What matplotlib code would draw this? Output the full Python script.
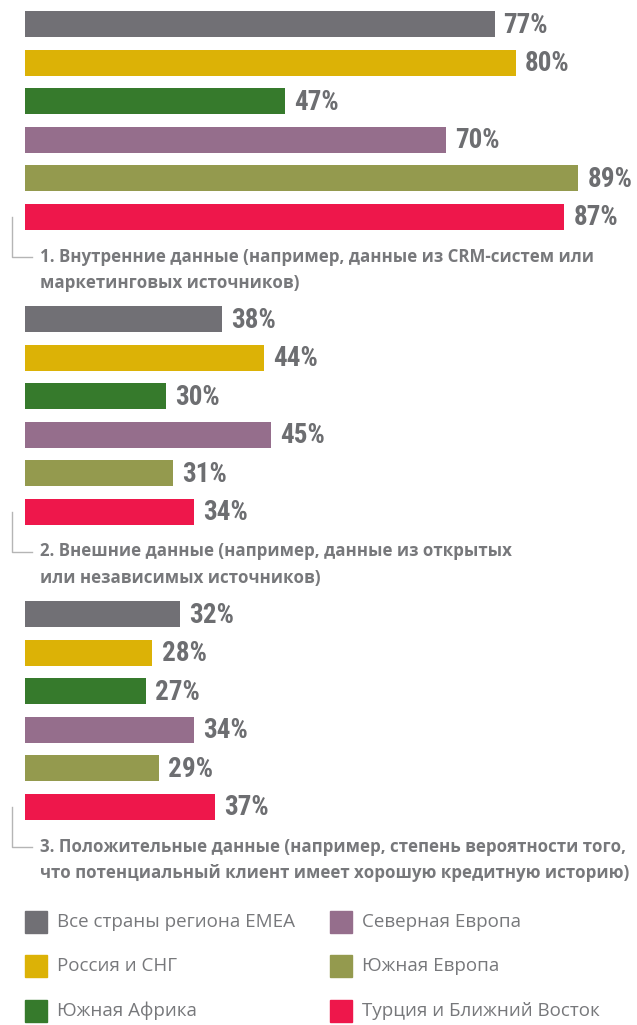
import matplotlib.pyplot as plt
from matplotlib import font_manager
from matplotlib.patches import Rectangle
from matplotlib.lines import Line2D

regions = ["Все страны региона EMEA", "Россия и СНГ", "Южная Африка",
           "Северная Европа", "Южная Европа", "Турция и Ближний Восток"]
colors = ["#717075", "#dcb206", "#367a2c", "#956e8c", "#949a4e", "#ee174b"]

group_titles = [
    ["1. Внутренние данные (например, данные из CRM-систем или",
     "маркетинговых источников)"],
    ["2. Внешние данные (например, данные из открытых",
     "или независимых источников)"],
    ["3. Положительные данные (например, степень вероятности того,",
     "что потенциальный клиент имеет хорошую кредитную историю)"],
]
internal = [77, 80, 47, 70, 89, 87]
external = [38, 44, 30, 45, 31, 34]
positive = [32, 28, 27, 34, 29, 37]
groups = [internal, external, positive]

# pick a narrow bold face for the percentages if one is around
installed = {f.name for f in font_manager.fontManager.ttflist}
num_font = "Roboto"
for name in ["Roboto Condensed", "Liberation Sans Narrow", "Open Sans Condensed",
             "DejaVu Sans Condensed"]:
    if name in installed:
        num_font = name
        break

W, H = 637, 1025
fig = plt.figure(figsize=(W / 100, H / 100), dpi=100)
ax = fig.add_axes([25 / W, 0, (W - 25) / W, 1])
ax.set_xlim(9.74, 97.4)
ax.set_ylim(H, 0)
ax.axis("off")

txt_gray = "#6d6e71"
body_font = ["Open Sans", "DejaVu Sans"]

for g, vals in enumerate(groups):
    y0 = 24 + g * 295
    ys = [y0 + i * 38.5 for i in range(len(vals))]
    ax.barh(ys, vals, height=26, color=colors)
    for v, y in zip(vals, ys):
        ax.annotate(f"{v}%", (v, y), xytext=(6.5, -1), textcoords="offset points",
                    va="center", ha="left", fontsize=19.5, fontweight="bold",
                    fontstretch="condensed", color=txt_gray,
                    family=[num_font, "DejaVu Sans"])
    # bracket + title
    yb = ys[-1]
    yt = yb + 40
    fig.add_artist(Line2D([12 / W, 12 / W, 32 / W],
                          [1 - yb / H, 1 - yt / H, 1 - yt / H],
                          color="#b5b5b5", lw=1))
    for k, line in enumerate(group_titles[g]):
        fig.text(40 / W, 1 - (yt + k * 26) / H, line, va="center", ha="left",
                 fontsize=12.2, fontweight="bold", color="#77787b",
                 family=body_font)

# legend
leg_x = [25, 330]
leg_y = [922, 966, 1011]
for i, (name, c) in enumerate(zip(regions, colors)):
    col, row = divmod(i, 3)
    x, y = leg_x[col], leg_y[row]
    fig.add_artist(Rectangle((x / W, 1 - (y + 11) / H), 22 / W, 22 / H,
                             color=c, transform=fig.transFigure))
    fig.text((x + 32) / W, 1 - y / H, name, va="center", ha="left",
             fontsize=13.5, color="#77787b", family=body_font)

fig.savefig("out.png", dpi=100)
